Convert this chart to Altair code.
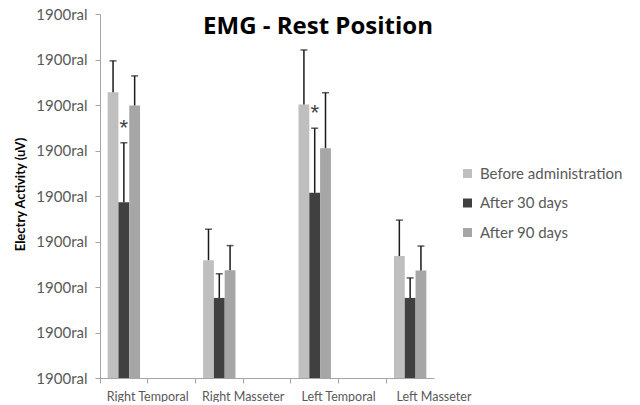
import altair as alt
import pandas as pd

categories = ["Right Temporal", "Right Masseter", "Left Temporal", "Left Masseter"]
slots = ["Right Temporal", " ", "Right Masseter", "  ", "Left Temporal", "   ", "Left Masseter"]
series = ["Before administration", "After 30 days", "After 90 days"]

before = [6.28, 2.59, 6.01, 2.68]
before_err = [6.97, 3.27, 7.21, 3.47]
after30 = [3.86, 1.76, 4.07, 1.76]
after30_err = [5.17, 2.29, 5.49, 2.20]
after90 = [5.99, 2.37, 5.05, 2.36]
after90_err = [6.64, 2.91, 6.27, 2.90]
stars30 = ["*", "", "*", ""]

y_ticks = [0, 1, 2, 3, 4, 5, 6, 7, 8]
y_label = "1900ral"
colors = ["#bfbfbf", "#404040", "#a6a6a6"]

rows = []
for vals, errs, name, stars in [
    (before, before_err, series[0], ["", "", "", ""]),
    (after30, after30_err, series[1], stars30),
    (after90, after90_err, series[2], ["", "", "", ""]),
]:
    for c, v, e, s in zip(categories, vals, errs, stars):
        rows.append({"category": c, "series": name, "value": v, "err": e, "star": s})
df = pd.DataFrame(rows)

FONT = "Lato"
band = 334 / 7

x_enc = alt.X(
    "category:N",
    scale=alt.Scale(domain=slots, paddingInner=0, paddingOuter=0),
    axis=alt.Axis(
        title=None, bandPosition=0, labelOffset=band / 2, labelAngle=0,
        labelOverlap=False, ticks=True, tickSize=5, tickColor="#a6a6a6",
        domainColor="#a6a6a6", labelFont=FONT, labelFontSize=12.5,
        labelColor="#595959", labelPadding=7, grid=False,
    ),
)
xoff = alt.XOffset("series:N", scale=alt.Scale(domain=series, paddingInner=0, paddingOuter=0.71))
y_scale = alt.Scale(domain=[0, 8], nice=False)

base = alt.Chart(df)

bars = base.mark_bar().encode(
    x=x_enc,
    xOffset=xoff,
    y=alt.Y(
        "value:Q", scale=y_scale,
        axis=alt.Axis(
            values=y_ticks, labelExpr=f"'{y_label}'", grid=False,
            tickSize=5, tickColor="#a6a6a6", domainColor="#a6a6a6",
            labelFont=FONT, labelFontSize=15, labelColor="#595959", labelPadding=8,
            title="Electry Activity (uV)", titleFont=FONT, titleFontSize=13,
            titleFontWeight="bold", titleColor="#000000", titleX=-80, titleY=180,
            titleAngle=-90, titleAlign="center", titleBaseline="middle",
        ),
    ),
    color=alt.Color(
        "series:N",
        scale=alt.Scale(domain=series, range=colors),
        legend=alt.Legend(
            title=None, orient="none", legendX=360, legendY=152,
            symbolType="square", symbolSize=81, symbolStrokeWidth=0,
            labelFont=FONT, labelFontSize=15, labelColor="#595959",
            rowPadding=13.5, labelOffset=5,
        ),
    ),
)

rules = base.mark_rule(color="#1a1a1a", strokeWidth=1.5).encode(
    x=x_enc, xOffset=xoff, y=alt.Y("value:Q", scale=y_scale), y2="err:Q"
)

caps = base.mark_tick(color="#1a1a1a", thickness=1.5, size=7).encode(
    x=x_enc, xOffset=xoff, y=alt.Y("err:Q", scale=y_scale)
)

stars = base.transform_filter(alt.datum.star == "*").mark_text(
    font="Liberation Sans", fontSize=22, color="#404040", baseline="alphabetic", dy=-8
).encode(
    x=x_enc, xOffset=xoff, y=alt.Y("err:Q", scale=y_scale), text="star:N"
)

chart = alt.layer(bars, rules, caps, stars).properties(
    width=334, height=364,
    title=alt.TitleParams(
        "EMG - Rest Position", font="Open Sans", fontSize=24, fontWeight="bold",
        color="#000000", anchor="middle", baseline="alphabetic", offset=0, dx=51, dy=51,
    ),
    autosize=alt.AutoSizeParams(type="none"),
    padding={"left": 92, "top": 6, "right": 190, "bottom": 24},
    background="white",
).configure_view(stroke=None)

chart.save("out.html", embed_options={"renderer": "svg", "actions": False})
